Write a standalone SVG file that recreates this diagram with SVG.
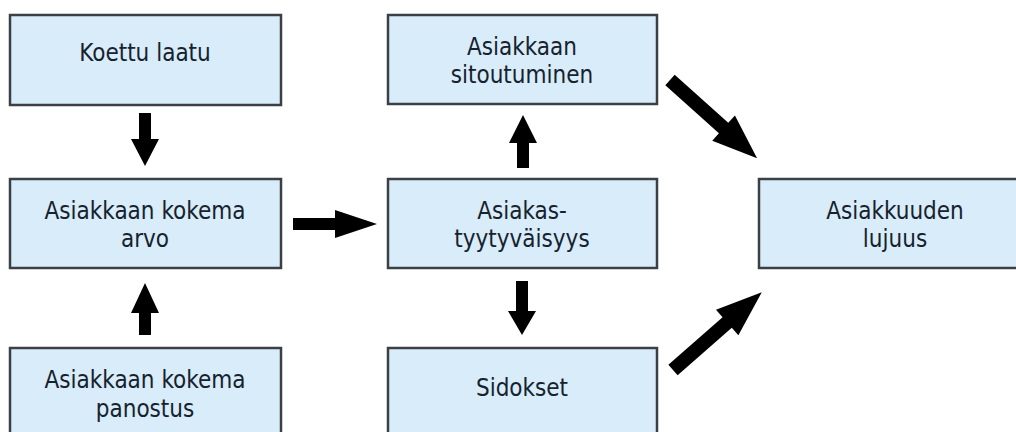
<svg xmlns="http://www.w3.org/2000/svg" width="1016" height="432" viewBox="0 0 1016 432">
<style>
.box{fill:#d8ecf9;stroke:#3a4046;stroke-width:2.5}
.t{font-family:"DejaVu Sans Condensed","DejaVu Sans",sans-serif;font-stretch:condensed;font-size:24px;fill:#16222e;text-anchor:middle}
.arr{fill:#000}
</style>
<rect width="1016" height="432" fill="#fff"/>
<g id="koettu-laatu"><rect class="box" x="10" y="15" width="271" height="90"/><text class="t" x="145" y="61">Koettu laatu</text></g>
<g id="kokema-arvo"><rect class="box" x="10" y="179" width="271" height="89"/><text class="t" x="145" y="219">Asiakkaan kokema</text><text class="t" x="145" y="247">arvo</text></g>
<g id="kokema-panostus"><rect class="box" x="10" y="348" width="271" height="90"/><text class="t" x="145" y="388">Asiakkaan kokema</text><text class="t" x="145" y="417">panostus</text></g>
<g id="sitoutuminen"><rect class="box" x="388" y="15" width="269" height="89"/><text class="t" x="522" y="55">Asiakkaan</text><text class="t" x="522" y="83">sitoutuminen</text></g>
<g id="tyytyvaisyys"><rect class="box" x="388" y="179" width="269" height="89"/><text class="t" x="522" y="219">Asiakas-</text><text class="t" x="522" y="247">tyytyväisyys</text></g>
<g id="sidokset"><rect class="box" x="388" y="348" width="269" height="90"/><text class="t" x="522" y="396">Sidokset</text></g>
<g id="lujuus"><rect class="box" x="759" y="179" width="271" height="89"/><text class="t" x="895" y="219">Asiakkuuden</text><text class="t" x="895" y="247">lujuus</text></g>
<g id="connectors">
<polygon class="arr" transform="translate(145,113) rotate(90)" points="0,-6 26,-6 26,-14 53,0 26,14 26,6 0,6"/>
<polygon class="arr" transform="translate(145,335) rotate(-90)" points="0,-6 22,-6 22,-14 52,0 22,14 22,6 0,6"/>
<polygon class="arr" transform="translate(523,168) rotate(-90)" points="0,-6 25,-6 25,-14 53,0 25,14 25,6 0,6"/>
<polygon class="arr" transform="translate(522,281) rotate(90)" points="0,-6 30,-6 30,-14 54,0 30,14 30,6 0,6"/>
<polygon class="arr" transform="translate(293,224) rotate(0)" points="0,-6 42,-6 42,-14 84,0 42,14 42,6 0,6"/>
<polygon class="arr" transform="translate(670,80) rotate(41.9)" points="0,-7 72,-7 72,-17 117,0 72,17 72,7 0,7"/>
<polygon class="arr" transform="translate(673,370) rotate(-41.2)" points="0,-7 72,-7 72,-17 118,0 72,17 72,7 0,7"/>
</g>
</svg>
